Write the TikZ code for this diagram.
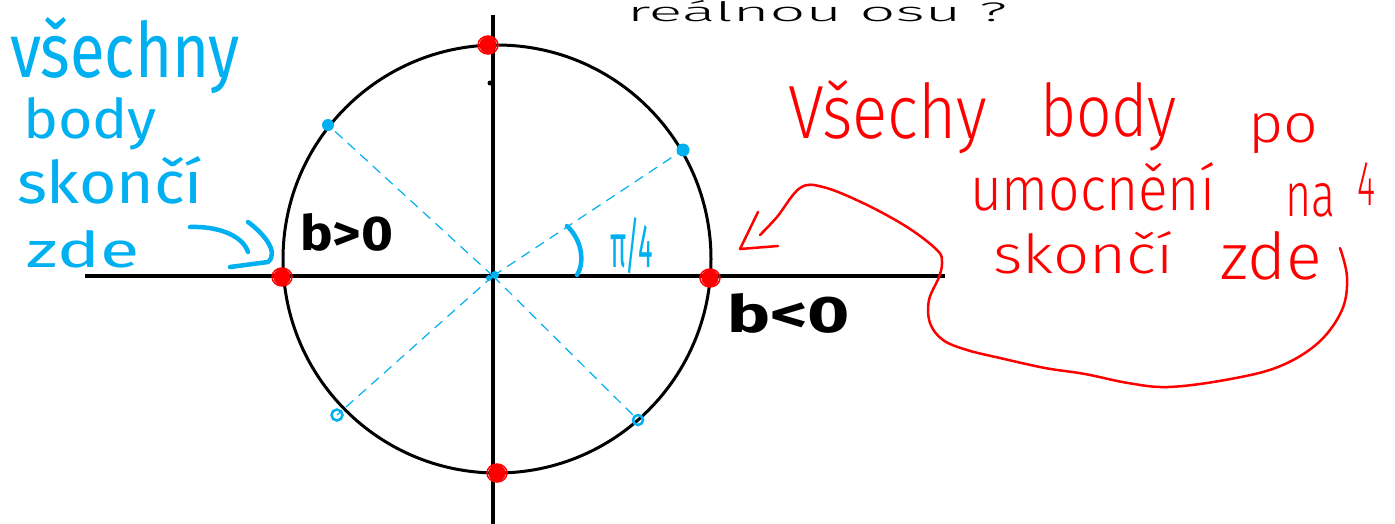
\documentclass[tikz,border=0pt]{standalone}
\usepackage{fontspec}
\setmainfont{Fira Sans}
\newfontfamily\thin{Fira Sans Light}
\newfontfamily\reg{Fira Sans}
\usepackage{graphicx}
\definecolor{hblue}{RGB}{0,176,240}
\definecolor{hred}{RGB}{255,0,0}
\newcommand\fitbox[3]{\resizebox{#1pt}{#2pt}{#3}}
\tikzset{
  txt/.style={inner sep=0pt, outer sep=0pt, anchor=base west},
  bluetxt/.style={txt, text=hblue, font=\reg},
  redtxt/.style={txt, text=hred, font=\thin},
  blacktxt/.style={txt, text=black, font=\bfseries},
  toptxt/.style={txt, text=black, font=\thin},
  axisline/.style={line width=4pt, black},
  circline/.style={line width=3pt, black},
  bluedash/.style={hblue, line width=1.2pt, dash pattern=on 10pt off 7pt},
  bluepen/.style={hblue, line width=4.5pt, line cap=round, line join=round},
  redpen/.style={hred, line width=2.5pt, line cap=round, line join=round},
}
\begin{document}
\begin{tikzpicture}[x=1pt,y=-1pt]
\useasboundingbox (0,0) rectangle (1395,523);
\fill[white] (0,0) rectangle (1395,523);

% axes and circle
\coordinate (O) at (493,276);
\coordinate (xl) at (85,276);
\coordinate (xr) at (945,276);
\coordinate (yt) at (493,15);
\coordinate (yb) at (493,526);
\draw[axisline] (xl) -- (xr);
\draw[line width=3.5pt] (yt) -- (yb);
\coordinate (C) at (497,259);
\draw[circline] (C) circle (214);
\fill[black] (490,83) circle (2.5);

% blue dashed radii
\coordinate (b1) at (328,125);
\coordinate (b2) at (683,150);
\coordinate (b3) at (337,415);
\coordinate (b4) at (638,420);
\foreach \p in {b1,b2,b3,b4} \draw[bluedash] (O) -- (\p);
\fill[hblue] (b1) circle (6);
\fill[hblue] (b2) circle (6.5);
\draw[hblue, line width=2.5pt] (b3) circle (5.5);
\draw[hblue, line width=2.5pt] (b4) circle (5);
\fill[hblue] (495,275) circle (4);
\fill[hblue] (489,278) circle (3);

% angle arc and label
\coordinate (a0) at (577,275);
\draw[bluepen] (a0) .. controls (585,262) and (582,240) .. (567,226);
\node[bluetxt] (pi4) at (610,267) {\fitbox{43}{50}{π/4}};

% red points
\foreach \q in {(488,45),(282,277),(710,278),(497,473)} {
  \fill[hred] \q circle (8.5);
  \draw[hred, line width=1.5pt] \q ellipse (10 and 9);
}

% black labels
\node[blacktxt] (bgt) at (300,250) {\fitbox{93}{37}{b>0}};
\node[blacktxt] (blt) at (727,332) {\fitbox{123}{39}{b<0}};

% top text
\node[toptxt] (top) at (627,21) {\fitbox{380}{21}{reálnou osu ?}};

% left blue text
\node[bluetxt] (l1) at (10,77) {\fitbox{230}{60}{všechny}};
\node[bluetxt] (l2) at (23,138) {\fitbox{134}{41}{body}};
\node[bluetxt] (l3) at (17,203) {\fitbox{186}{47}{skončí}};
\node[bluetxt] (l4) at (27,267) {\fitbox{113}{37}{zde}};

% blue arrow
\coordinate (ba1) at (190,227);
\coordinate (ba2) at (248,252);
\coordinate (bh1) at (248,222);
\coordinate (bh2) at (230,267);
\draw[bluepen] (ba1) .. controls (215,226) and (242,234) .. (ba2);
\draw[bluepen] (bh1) .. controls (262,232) and (280,252) .. (268,262) -- (bh2);

% red text
\node[redtxt] (r1) at (788,138) {\fitbox{199}{58}{Všechy}};
\node[redtxt] (r2) at (1040,136) {\fitbox{137}{54}{body}};
\node[redtxt] (r3) at (1248,142) {\fitbox{70}{29}{po}};
\node[redtxt] (r4) at (970,210) {\fitbox{245}{48}{umocnění}};
\node[redtxt] (r5) at (1285,216) {\fitbox{50}{33}{na}};
\node[redtxt] (r6) at (1357,205) {\fitbox{18}{43}{4}};
\node[redtxt] (r7) at (993,273) {\fitbox{180}{42}{skončí}};
\node[redtxt] (r8) at (1220,279) {\fitbox{102}{48}{zde}};

% red arrow and loop
\coordinate (rtip) at (740,249);
\coordinate (rs) at (760,235);
\coordinate (re) at (1340,248);
\draw[redpen] (758,212) -- (rtip) -- (778,246);
\draw[redpen] plot[smooth, tension=0.6] coordinates {(rs) (777,217) (800,188) (823,187) (863,203) (907,227) (937,250) (942,262) (939,277) (929,300) (930,323) (943,340) (967,350) (1000,358) (1045,368) (1085,374) (1128,383) (1168,387) (1225,380) (1278,367) (1318,343) (1342,310) (1347,277) (re)};
\end{tikzpicture}
\end{document}
